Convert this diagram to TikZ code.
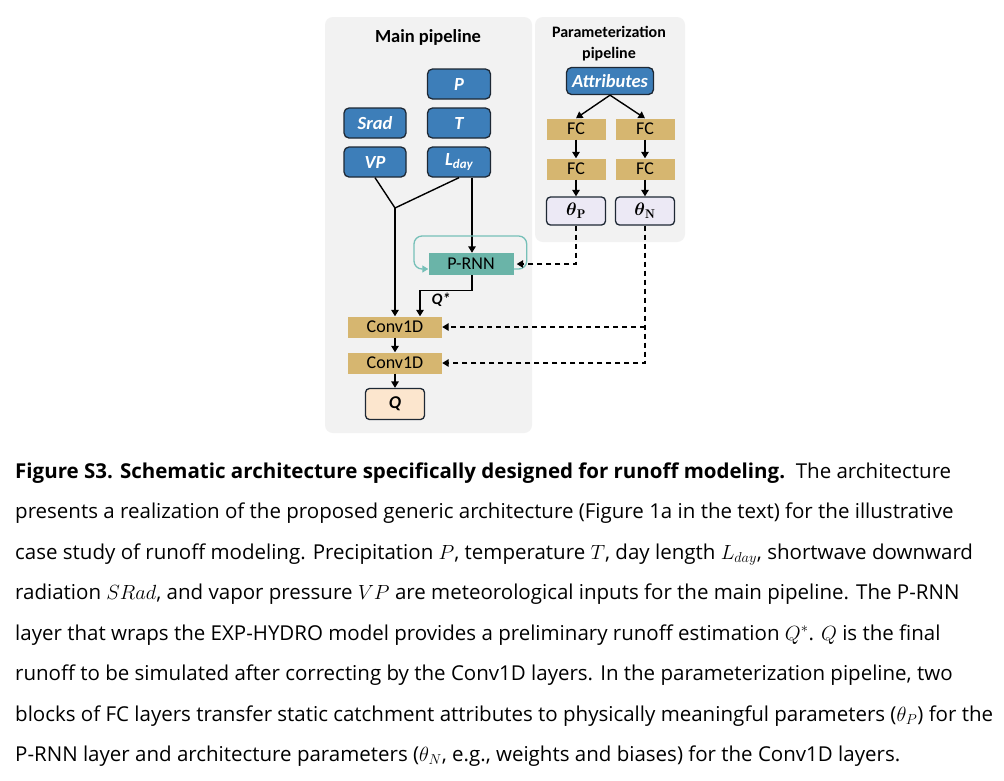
\RequirePackage{fix-cm}
\documentclass[tikz,border=0pt]{standalone}
\usepackage{amsmath}
\usepackage{fontspec}
\usetikzlibrary{arrows.meta,calc}
\newfontfamily\diafont{Carlito}
\newfontfamily\capfont{Open Sans}
\definecolor{panelgray}{RGB}{242,242,242}
\definecolor{boxblue}{RGB}{61,126,185}
\definecolor{boxedge}{RGB}{30,40,52}
\definecolor{tan}{RGB}{214,182,112}
\definecolor{teal}{RGB}{106,180,168}
\definecolor{loopteal}{RGB}{118,192,184}
\definecolor{lav}{RGB}{236,233,245}
\definecolor{peach}{RGB}{252,230,206}
\tikzset{
  panel/.style={fill=panelgray, draw=none, rounded corners=8pt},
  bluebox/.style={fill=boxblue, draw=boxedge, line width=1.3pt, rounded corners=5pt,
     minimum width=63pt, minimum height=30pt, inner sep=0pt, text=white,
     font=\diafont\fontsize{18.5}{20}\selectfont\bfseries\itshape},
  tanbox/.style={fill=tan, draw=none, minimum height=21pt, inner sep=0pt,
     font=\diafont\fontsize{18}{20}\selectfont},
  thetabox/.style={fill=lav, draw=boxedge, line width=1.3pt, rounded corners=4pt,
     minimum width=59pt, minimum height=28pt, inner sep=0pt,
     font=\fontsize{18}{20}\selectfont},
  title/.style={font=\diafont\bfseries, align=center, inner sep=0pt},
  conn/.style={line width=1.4pt, draw=black},
  arr/.style={conn, -{Triangle[length=6.5pt,width=7.5pt]}},
  dasharr/.style={arr, dash pattern=on 5pt off 4pt},
  capline/.style={anchor=base west, inner sep=0pt, font=\capfont\fontsize{20.5}{24}\selectfont}
}
\begin{document}
\begin{tikzpicture}[x=1pt,y=-1pt]
\useasboundingbox[fill=white] (0,0) rectangle (1004,780);
% panels
\fill[panel] (325,17) rectangle (532,433);
\fill[panel] (535,17) rectangle (685,242);
\node[title, font=\diafont\bfseries\fontsize{18.5}{20}\selectfont] (tmain) at (428,37) {Main pipeline};
\node[title, font=\diafont\bfseries\fontsize{16}{21}\selectfont] (tpar) at (609,44) {Parameterization\\pipeline};
% inputs
\node[bluebox] (P) at (459,84) {P};
\node[bluebox] (T) at (459,123) {T};
\node[bluebox] (Lday) at (459,162) {L\raisebox{-0.35ex}{\fontsize{13}{13}\selectfont day}};
\node[bluebox, minimum width=62pt] (Srad) at (375,123) {Srad};
\node[bluebox, minimum width=62pt] (VP) at (375,162) {VP};
% parameterization
\node[bluebox, minimum width=87pt, minimum height=27pt] (Attr) at (610,81) {Attributes};
\node[tanbox, minimum width=59pt] (FCa1) at (576,129) {FC};
\node[tanbox, minimum width=59pt] (FCb1) at (645,129) {FC};
\node[tanbox, minimum width=59pt] (FCa2) at (576,169) {FC};
\node[tanbox, minimum width=59pt] (FCb2) at (645,169) {FC};
\node[thetabox] (thP) at (576,211) {$\boldsymbol{\theta}_{\mathbf{P}}$};
\node[thetabox] (thN) at (645,211) {$\boldsymbol{\theta}_{\mathbf{N}}$};
% main
\node[fill=teal, minimum width=85pt, minimum height=22pt, inner sep=0pt,
      font=\diafont\fontsize{18}{20}\selectfont] (PRNN) at (471,264) {P-RNN};
\node[tanbox, minimum width=94pt] (C1) at (395,327) {Conv1D};
\node[tanbox, minimum width=94pt] (C2) at (395,363) {Conv1D};
\node[fill=peach, draw=boxedge, line width=1.3pt, rounded corners=4pt,
      minimum width=59pt, minimum height=31pt, inner sep=0pt,
      font=\diafont\fontsize{18}{20}\selectfont\bfseries\itshape] (Q) at (395,404) {Q};
\node[inner sep=0pt, font=\diafont\fontsize{16}{18}\selectfont\bfseries\itshape] (Qs) at (441,300) {Q*};
\coordinate (J) at (395,208);
\coordinate (Ltop) at ($(Lday.south)+(13,0)$);
% connectors
\draw[conn] (VP.south) -- (J);
\draw[conn] (Lday.south) -- (J);
\draw[arr] (J) -- (C1.north);
\draw[arr] (Ltop) -- (Ltop |- PRNN.north);
\draw[arr] ($(PRNN.south)+(1,0)$) -- ++(0,15) -| ($(C1.north)+(25,0)$);
\draw[loopteal, line width=1.3pt, rounded corners=8pt, -{Triangle[length=6pt,width=7pt]}]
  ($(PRNN.east)+(0,5)$) -- ++(13,0) -- ++(0,-33) -- (414,236) -- (414,269) -- ($(PRNN.west)+(0,5)$);
\draw[arr] (C1.south) -- (C2.north);
\draw[arr] (C2.south) -- (Q.north);
\draw[arr] (Attr.south) -- (FCa1.north);
\draw[arr] (Attr.south) -- (FCb1.north);
\draw[arr] (FCa1.south) -- (FCa2.north);
\draw[arr] (FCb1.south) -- (FCb2.north);
\draw[arr] (FCa2.south) -- (thP.north);
\draw[arr] (FCb2.south) -- (thN.north);
\draw[dasharr] (thP.south) |- ($(PRNN.east)+(3,0)$);
\draw[dasharr] (thN.south) |- (C2.east);
\draw[dasharr] (thN.south |- C1.east) -- (C1.east);
% caption
\node[capline] (l1) at (15,478) {\textbf{Figure S3. Schematic architecture specifically designed for runoff modeling.}\ \ The architecture};
\node[capline] (l2) at (15,518.5) {presents a realization of the proposed generic architecture (Figure 1a in the text) for the illustrative};
\node[capline] (l3) at (15,559) {case study of runoff modeling. Precipitation $P$, temperature $T$, day length $L_{day}$, shortwave downward};
\node[capline] (l4) at (15,599.5) {radiation $SRad$, and vapor pressure $VP$ are meteorological inputs for the main pipeline. The P-RNN};
\node[capline] (l5) at (15,640) {layer that wraps the EXP-HYDRO model provides a preliminary runoff estimation $Q^{*}$. $Q$ is the final};
\node[capline] (l6) at (15,680.5) {runoff to be simulated after correcting by the Conv1D layers. In the parameterization pipeline, two};
\node[capline] (l7) at (15,721) {blocks of FC layers transfer static catchment attributes to physically meaningful parameters ($\theta_{P}$) for the};
\node[capline] (l8) at (15,761.5) {P-RNN layer and architecture parameters ($\theta_{N}$, e.g., weights and biases) for the Conv1D layers.};
\end{tikzpicture}
\end{document}
